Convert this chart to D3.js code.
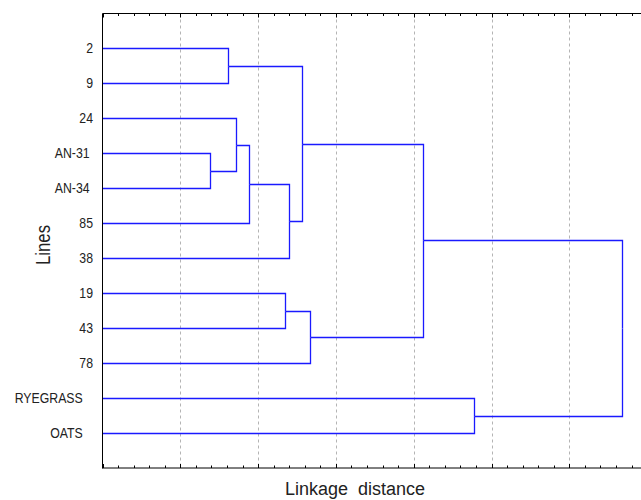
<!DOCTYPE html>
<html>
<head>
<meta charset="utf-8">
<script src="https://cdn.jsdelivr.net/npm/d3@7"></script>
<style>
  body { margin: 0; background: #fff; }
  svg { display: block; }
  .leaf { font-family: "Liberation Sans", Arial, sans-serif; font-size: 15px; fill: #222; white-space: pre; }
  .title { font-family: "Liberation Sans", Arial, sans-serif; font-size: 18px; fill: #222; white-space: pre; }
</style>
</head>
<body>
<svg id="chart"></svg>
<script>
// leaf labels, top to bottom (trailing spaces as in the original labels)
var leaves = ["2", "9", "24", "AN-31 ", "AN-34 ", "85", "38", "19", "43", "78", "RYEGRASS   ", "OATS   "];

// merges: [child a, child b, linkage distance]; new cluster ids start after the leaves
var mergeA = [3, 0, 2, 14, 7, 15, 13, 16, 18, 10, 20];
var mergeB = [4, 1, 12, 5, 8, 6, 17, 9, 19, 11, 21];
var mergeDist = [1.38, 1.61, 1.72, 1.88, 2.35, 2.40, 2.56, 2.67, 4.12, 4.78, 6.68];

var xMax = 7;

var totalWidth = 641;
var totalHeight = 500;
var margin = { top: 13.5, left: 102.5, bottom: 32 };
var plotTop = margin.top, plotBottom = totalHeight - margin.bottom;

var svg = d3.select("#chart")
    .attr("width", totalWidth)
    .attr("height", totalHeight);

var x = d3.scaleLinear().domain([0, xMax]).range([margin.left, margin.left + xMax * 77.8]);
var y = d3.scalePoint().domain(d3.range(leaves.length)).range([plotTop, plotBottom]).padding(1);

function px(v) { return Math.round(v) + 0.5; }

// grid
svg.append("g")
    .selectAll("line")
    .data(d3.range(1, xMax))
    .enter()
    .append("line")
    .attr("x1", function (d) { return px(x(d)) })
    .attr("x2", function (d) { return px(x(d)) })
    .attr("y1", plotTop)
    .attr("y2", plotBottom)
    .attr("stroke", "#b4b4b4")
    .attr("stroke-dasharray", "3,3");

// node positions
var nodeX = [], nodeY = [];
leaves.forEach(function (d, i) {
    nodeX[i] = x(0);
    nodeY[i] = y(i);
});

var links = [];
mergeDist.forEach(function (h, k) {
    var id = leaves.length + k;
    var a = mergeA[k], b = mergeB[k];
    nodeX[id] = x(h);
    nodeY[id] = (nodeY[a] + nodeY[b]) / 2;
    links.push([a, id]);
    links.push([b, id]);
});

svg.append("g")
    .selectAll("path")
    .data(links)
    .enter()
    .append("path")
    .attr("d", function (l) {
        var c = l[0], p = l[1];
        return "M" + (c < leaves.length ? margin.left : px(nodeX[c])) + "," + px(nodeY[c])
            + "H" + px(nodeX[p]) + "V" + px(nodeY[p]);
    })
    .attr("fill", "none")
    .attr("stroke", "#1a1aff")
    .attr("stroke-width", 1.3);

// axes: ticks pointing inward, no labels
var minorTicks = d3.range(0, xMax * 5 + 1).map(function (d) { return d / 5; });

function drawAxis(yPos, sign) {
    var g = svg.append("g").attr("transform", "translate(0," + yPos + ")");
    g.append("line")
        .attr("x1", margin.left).attr("x2", totalWidth)
        .attr("stroke", "#000");
    g.selectAll(".tk")
        .data(minorTicks)
        .enter()
        .append("line")
        .attr("x1", function (d) { return px(x(d)) })
        .attr("x2", function (d) { return px(x(d)) })
        .attr("y1", 0)
        .attr("y2", function (d) { return sign * (Math.abs(d - Math.round(d)) < 1e-6 ? 4 : 2.5) })
        .attr("stroke", "#000");
}
drawAxis(plotTop, 1);
drawAxis(plotBottom, -1);

// left axis line
svg.append("line")
    .attr("x1", margin.left).attr("x2", margin.left)
    .attr("y1", plotTop).attr("y2", plotBottom + 0.5)
    .attr("stroke", "#000");

// leaf labels (narrow face)
svg.append("g")
    .selectAll("text")
    .data(leaves)
    .enter()
    .append("text")
    .attr("class", "leaf")
    .attr("transform", function (d, i) { return "translate(93," + y(i) + ") scale(0.82,1)" })
    .attr("dy", "0.3em")
    .attr("text-anchor", "end")
    .text(function (d) { return d });

svg.append("text")
    .attr("class", "title")
    .attr("x", 285)
    .attr("y", 495)
    .text("Linkage  distance");

svg.append("text")
    .attr("class", "title")
    .style("font-size", "20px")
    .attr("transform", "translate(50,245) rotate(-90) scale(0.84,1)")
    .attr("text-anchor", "middle")
    .text("Lines");
</script>
</body>
</html>
